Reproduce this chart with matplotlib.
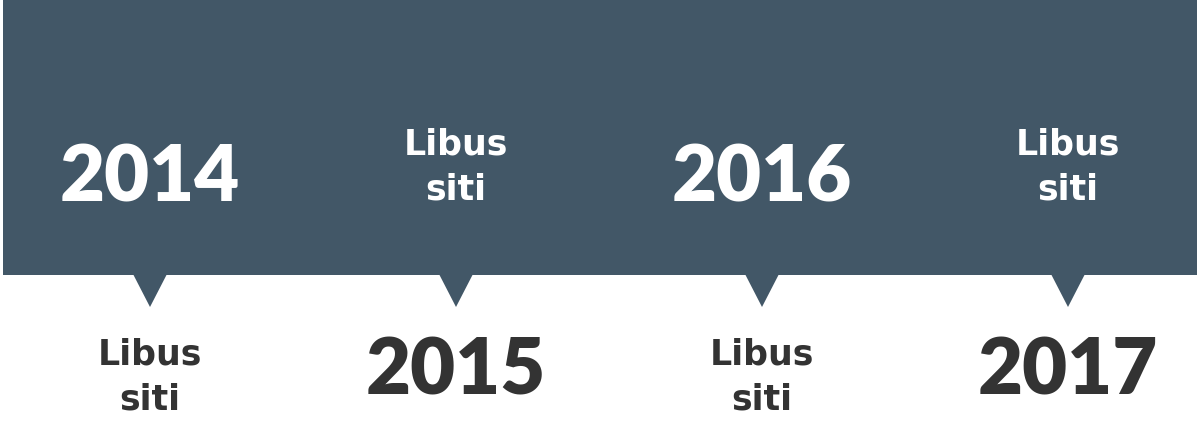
import matplotlib.pyplot as plt
from matplotlib.patches import Rectangle, Polygon

years = ['2014', '2015', '2016', '2017']
captions = ['Libus\nsiti', 'Libus\nsiti', 'Libus\nsiti', 'Libus\nsiti']
year_on_top = [True, False, True, False]

band_color = '#425767'
dark_text = '#333333'

fig = plt.figure(figsize=(11.99, 4.25), dpi=100)
ax = fig.add_axes([0, 0, 1, 1])
ax.set_xlim(0, 1199)
ax.set_ylim(425, 0)
ax.axis('off')

# band
ax.add_patch(Rectangle((3, 0), 1194, 275, color=band_color, lw=0))

step = 306
x0 = 150
for i, yr in enumerate(years):
    x = x0 + i * step
    # pointer under band
    ax.add_patch(Polygon([[x - 17, 274], [x + 17, 274], [x, 307]],
                         closed=True, color=band_color, lw=0))
    if year_on_top[i]:
        ax.text(x, 179, yr, ha='center', va='center', color='white',
                fontsize=56, family='Lato', weight='heavy')
        ax.text(x, 377, captions[i], ha='center', va='center', color=dark_text,
                fontsize=25, family='DejaVu Sans', weight='bold', linespacing=1.4)
    else:
        ax.text(x, 372, yr, ha='center', va='center', color=dark_text,
                fontsize=56, family='Lato', weight='heavy')
        ax.text(x, 167, captions[i], ha='center', va='center', color='white',
                fontsize=25, family='DejaVu Sans', weight='bold', linespacing=1.4)

plt.savefig('out.png', dpi=100)
